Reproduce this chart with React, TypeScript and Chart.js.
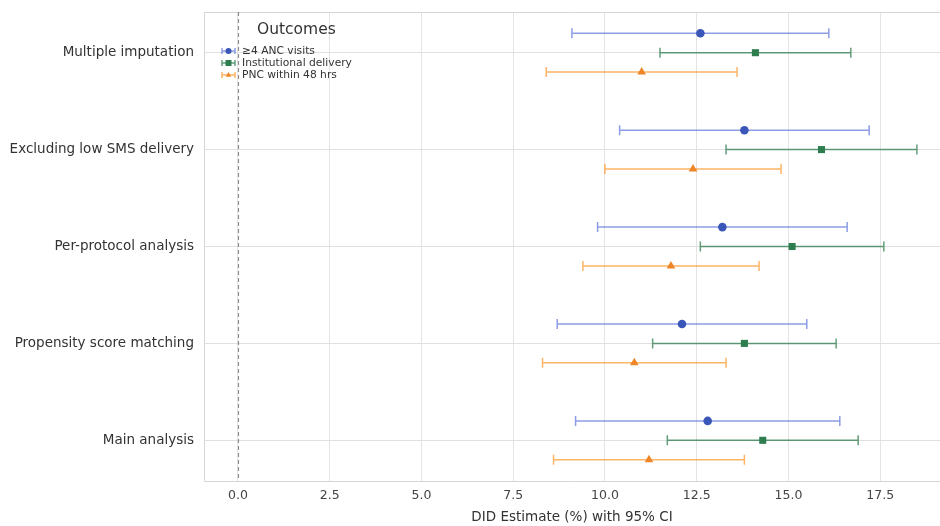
import React, { useEffect, useRef } from "react";
import { Chart, registerables } from "chart.js";

Chart.register(...registerables);

// ---- data ----
const categories = [
  "Main analysis",
  "Propensity score matching",
  "Per-protocol analysis",
  "Excluding low SMS delivery",
  "Multiple imputation",
];
const seriesNames = ["≥4 ANC visits", "Institutional delivery", "PNC within 48 hrs"];

const ancEst = [12.8, 12.1, 13.2, 13.8, 12.6];
const ancLo = [9.2, 8.7, 9.8, 10.4, 9.1];
const ancHi = [16.4, 15.5, 16.6, 17.2, 16.1];

const instEst = [14.3, 13.8, 15.1, 15.9, 14.1];
const instLo = [11.7, 11.3, 12.6, 13.3, 11.5];
const instHi = [16.9, 16.3, 17.6, 18.5, 16.7];

const pncEst = [11.2, 10.8, 11.8, 12.4, 11.0];
const pncLo = [8.6, 8.3, 9.4, 10.0, 8.4];
const pncHi = [13.8, 13.3, 14.2, 14.8, 13.6];

const xTicks = [0, 2.5, 5, 7.5, 10, 12.5, 15, 17.5];
const xTitle = "DID Estimate (%) with 95% CI";
const legendTitle = "Outcomes";

// ---- styles ----
const FONT = "'DejaVu Sans', sans-serif";
const offsets = [0.2, 0, -0.2];
const pointColors = ["#3a56b8", "#2e7d4f", "#ee8526"];
const lineColors = ["rgba(80,104,215,0.65)", "rgba(46,125,79,0.75)", "rgba(255,140,20,0.65)"];
const pointStyles = ["circle", "rect", "triangle"];
const pointRadii = [4.3, 5, 5];

const estArr = [ancEst, instEst, pncEst];
const loArr = [ancLo, instLo, pncLo];
const hiArr = [ancHi, instHi, pncHi];

function drawMarker(ctx: CanvasRenderingContext2D, style: string, x: number, y: number, r: number, color: string) {
  ctx.fillStyle = color;
  ctx.beginPath();
  if (style === "circle") {
    ctx.arc(x, y, r, 0, Math.PI * 2);
  } else if (style === "rect") {
    ctx.rect(x - r, y - r, 2 * r, 2 * r);
  } else {
    ctx.moveTo(x, y - r);
    ctx.lineTo(x + r * 0.9, y + r * 0.6);
    ctx.lineTo(x - r * 0.9, y + r * 0.6);
    ctx.closePath();
  }
  ctx.fill();
}

const errorBarPlugin = {
  id: "errorBars",
  beforeDatasetsDraw(chart: any) {
    const ctx = chart.ctx;
    const xs = chart.scales.x;
    const ys = chart.scales.y;
    const area = chart.chartArea;
    ctx.save();
    // spines (left, top, bottom)
    ctx.strokeStyle = "#d6d6d6";
    ctx.lineWidth = 1;
    ctx.beginPath();
    ctx.moveTo(area.right, Math.round(area.top) + 0.5);
    ctx.lineTo(Math.round(area.left) + 0.5, Math.round(area.top) + 0.5);
    ctx.lineTo(Math.round(area.left) + 0.5, Math.round(area.bottom) + 0.5);
    ctx.lineTo(area.right, Math.round(area.bottom) + 0.5);
    ctx.stroke();
    // zero line
    const x0 = xs.getPixelForValue(0);
    ctx.strokeStyle = "rgba(110,110,110,0.8)";
    ctx.setLineDash([4, 3]);
    ctx.lineWidth = 1.1;
    ctx.beginPath();
    ctx.moveTo(Math.round(x0) + 0.5, area.top);
    ctx.lineTo(Math.round(x0) + 0.5, area.bottom);
    ctx.stroke();
    ctx.setLineDash([]);
    // error bars
    for (let s = 0; s < 3; s++) {
      ctx.strokeStyle = lineColors[s];
      ctx.lineWidth = 1.5;
      for (let i = 0; i < categories.length; i++) {
        const y = ys.getPixelForValue(i + offsets[s]);
        const xl = xs.getPixelForValue(loArr[s][i]);
        const xh = xs.getPixelForValue(hiArr[s][i]);
        ctx.beginPath();
        ctx.moveTo(xl, y);
        ctx.lineTo(xh, y);
        ctx.moveTo(xl, y - 5);
        ctx.lineTo(xl, y + 5);
        ctx.moveTo(xh, y - 5);
        ctx.lineTo(xh, y + 5);
        ctx.stroke();
      }
    }
    ctx.restore();
  },
  afterDraw(chart: any) {
    const ctx = chart.ctx;
    ctx.save();
    ctx.fillStyle = "#333";
    ctx.font = `15.5px ${FONT}`;
    ctx.textBaseline = "middle";
    ctx.textAlign = "left";
    ctx.fillText(legendTitle, 257, 30);
    ctx.font = `10.7px ${FONT}`;
    const ys = [51, 63, 75];
    for (let s = 0; s < 3; s++) {
      const y = ys[s];
      ctx.strokeStyle = lineColors[s];
      ctx.lineWidth = 1.5;
      ctx.beginPath();
      ctx.moveTo(222, y);
      ctx.lineTo(235, y);
      ctx.moveTo(222, y - 3);
      ctx.lineTo(222, y + 3);
      ctx.moveTo(235, y - 3);
      ctx.lineTo(235, y + 3);
      ctx.stroke();
      drawMarker(ctx, pointStyles[s], 228.5, y, 3, pointColors[s]);
      ctx.fillStyle = "#333";
      ctx.fillText(seriesNames[s], 242, y);
    }
    ctx.restore();
  },
};

export default function App() {
  const ref = useRef<HTMLCanvasElement | null>(null);
  useEffect(() => {
    if (!ref.current) return;
    const datasets = [0, 1, 2].map((s) => ({
      label: seriesNames[s],
      data: estArr[s].map((v, i) => ({ x: v, y: i + offsets[s] })),
      backgroundColor: pointColors[s],
      borderColor: pointColors[s],
      pointStyle: pointStyles[s],
      pointRadius: pointRadii[s],
      borderWidth: 0,
    }));
    const chart = new Chart(ref.current, {
      type: "scatter",
      data: { datasets },
      plugins: [errorBarPlugin],
      options: {
        animation: false,
        responsive: false,
        layout: { padding: { top: 12, right: 0, left: 0, bottom: 0 } },
        plugins: { legend: { display: false }, tooltip: { enabled: false } },
        scales: {
          x: {
            type: "linear",
            min: -0.925,
            max: 19.13,
            afterBuildTicks: (scale: any) => {
              scale.ticks = xTicks.map((v) => ({ value: v }));
            },
            afterFit: (scale: any) => {
              scale.height = 45;
              scale.paddingLeft = 0;
              scale.paddingRight = 0;
            },
            grid: { color: "#e4e4e4", lineWidth: 1, drawTicks: false },
            border: { display: false },
            ticks: {
              color: "#444",
              font: { family: FONT, size: 12.5 },
              padding: 7,
              callback: (v: any) => Number(v).toFixed(1),
            },
            title: {
              display: true,
              text: xTitle,
              color: "#333",
              font: { family: FONT, size: 13.5 },
              padding: { top: 1, bottom: 0 },
            },
          },
          y: {
            type: "linear",
            min: -0.42,
            max: 4.42,
            afterBuildTicks: (scale: any) => {
              scale.ticks = categories.map((_, i) => ({ value: i }));
            },
            afterFit: (scale: any) => {
              scale.width = 204;
              scale.paddingTop = 0;
              scale.paddingBottom = 0;
            },
            grid: { color: "#e0e0e0", lineWidth: 1, drawTicks: false },
            border: { display: false },
            ticks: {
              color: "#333",
              font: { family: FONT, size: 13.5 },
              padding: 10,
              callback: (v: any) => categories[Math.round(Number(v))] ?? "",
            },
          },
        },
      },
    });
    return () => chart.destroy();
  }, []);
  return (
    <div
      style={{
        position: "fixed",
        left: 0,
        top: 0,
        width: 940,
        height: 526,
        overflow: "hidden",
        background: "#fff",
      }}
    >
      <canvas ref={ref} width={945} height={526} />
    </div>
  );
}
